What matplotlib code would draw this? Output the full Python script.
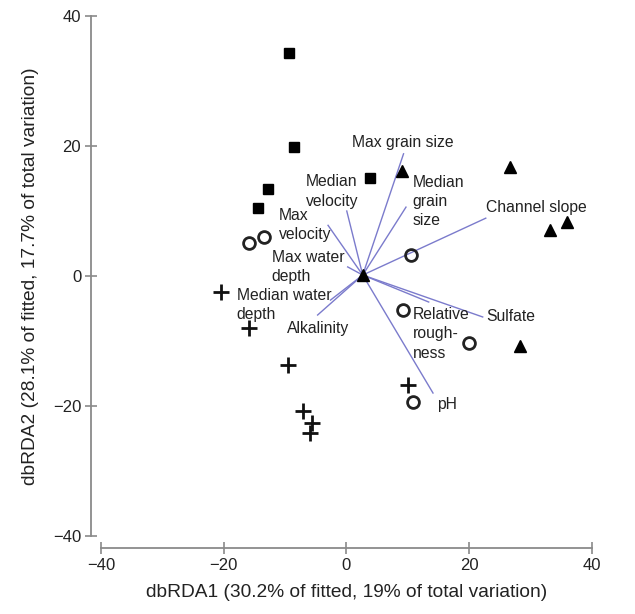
import numpy as np
import matplotlib.pyplot as plt

plt.rcParams['font.family'] = ['Liberation Sans', 'DejaVu Sans']

# site scores
sq_x = [-9.4, -8.6, -12.8, -14.4, 3.8]
sq_y = [34.3, 19.8, 13.4, 10.5, 15.1]

tri_x = [2.65, 9.0, 26.6, 33.1, 35.9, 28.2]
tri_y = [0.15, 16.2, 16.8, 7.1, 8.3, -10.8]

circ_x = [-15.9, -13.5, 10.5, 9.2, 19.9, 10.8]
circ_y = [5.1, 6.0, 3.2, -5.2, -10.3, -19.4]

plus_x = [-20.5, -15.9, -9.5, -7.1, -5.6, -5.9, 10.1]
plus_y = [-2.5, -8.0, -13.7, -20.8, -22.6, -24.2, -16.8]

# biplot vectors (tips) and where the labels go
origin = (2.65, 0.15)
vec_names = ['Max grain size', 'Median grain size', 'Channel slope', 'Sulfate',
             'Relative roughness', 'pH', 'Alkalinity', 'Median water depth',
             'Max water depth', 'Max velocity', 'Median velocity']
vec_x = [9.3, 9.7, 22.7, 22.2, 13.4, 14.1, -4.7, -2.6, 0.2, -3.0, 0.05]
vec_y = [18.8, 10.6, 8.9, -6.3, -4.0, -18.0, -6.0, -3.7, 1.4, 7.8, 10.0]

lab_text = ['Max grain size', 'Median\ngrain\nsize', 'Channel slope', 'Sulfate',
            'Relative\nrough-\nness', 'pH', 'Alkalinity', 'Median water\ndepth',
            'Max water\ndepth', 'Max\nvelocity', 'Median\nvelocity']
lab_x = [0.9, 10.8, 22.7, 22.8, 10.8, 14.7, -9.7, -17.9, -12.2, -11.0, -6.6]
lab_y = [20.5, 11.5, 10.5, -6.3, -8.9, -19.7, -8.0, -4.4, 1.4, 7.8, 13.0]

fig = plt.figure(figsize=(6.35, 6.14), dpi=100)
ax = fig.add_axes([0.159, 0.127, 0.7732, 0.8469])

for i in range(len(vec_names)):
    ax.plot([origin[0], vec_x[i]], [origin[1], vec_y[i]], color='#7b7bcc', lw=1.0, zorder=1)
    ax.text(lab_x[i], lab_y[i], lab_text[i], fontsize=11.3, color='#222222',
            ha='left', va='center', linespacing=1.35, zorder=3)

ax.plot(sq_x, sq_y, 's', color='black', ms=7.5, ls='none', zorder=2)
ax.plot(tri_x, tri_y, '^', color='black', ms=9, ls='none', zorder=2)
ax.plot(circ_x, circ_y, 'o', mfc='none', mec='#222222', mew=2, ms=8.5, ls='none', zorder=2)
ax.plot(plus_x, plus_y, '+', color='#111111', mew=2, ms=11, ls='none', zorder=2)

ax.set_xlim(-40, 40)
ax.set_ylim(-40, 40)
ax.set_xticks([-40, -20, 0, 20, 40])
ax.set_yticks([-40, -20, 0, 20, 40])
ax.set_xticklabels(['\u221240', '\u221220', '0', '20', '40'])
ax.set_yticklabels(['\u221240', '\u221220', '0', '20', '40'])

for s in ['top', 'right']:
    ax.spines[s].set_visible(False)
ax.spines['left'].set_position(('outward', 7.2))
ax.spines['bottom'].set_position(('outward', 8.6))
for s in ['left', 'bottom']:
    ax.spines[s].set_color('#8a8a8a')
    ax.spines[s].set_linewidth(1.3)
ax.tick_params(axis='both', direction='inout', length=8, width=1.2, color='#8a8a8a',
               labelsize=12, labelcolor='#222222', pad=3)

ax.set_xlabel('dbRDA1 (30.2% of fitted, 19% of total variation)', fontsize=13.8,
              color='#222222', labelpad=8)
ax.set_ylabel('dbRDA2 (28.1% of fitted, 17.7% of total variation)', fontsize=13.8,
              color='#222222', labelpad=10)

fig.savefig('out.png', dpi=100)
